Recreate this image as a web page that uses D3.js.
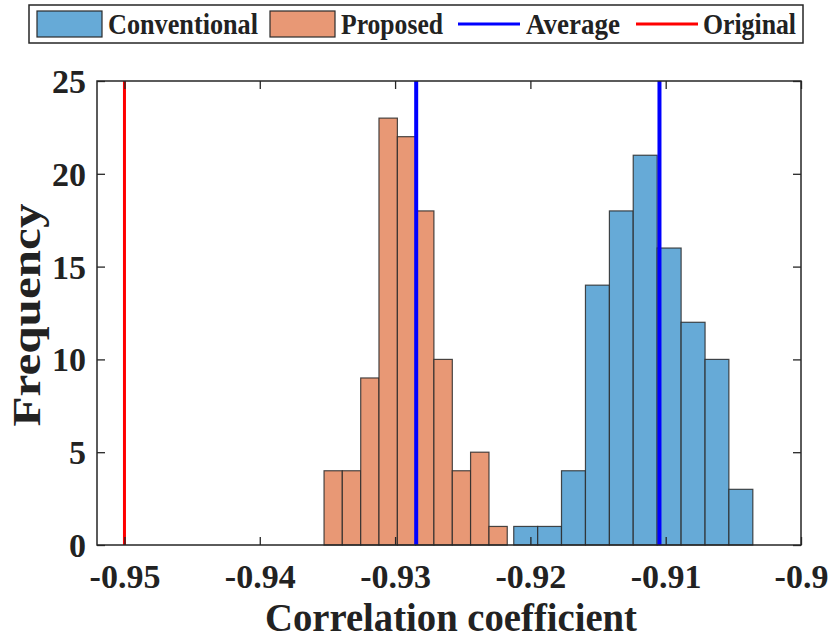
<!DOCTYPE html>
<html>
<head>
<meta charset="utf-8">
<script src="https://cdn.jsdelivr.net/npm/d3@7"></script>
<style>
  body { margin: 0; background: #fff; }
  text { font-family: "Liberation Serif", "Times New Roman", serif; font-weight: bold; fill: #222; }
</style>
</head>
<body>
<div id="chart"></div>
<script>
// histogram bin edges and counts
var conventionalEdges = [-0.92123, -0.91946, -0.91770, -0.91593, -0.91416, -0.91240, -0.91063, -0.90886, -0.90709, -0.90533, -0.90356];
var conventionalCounts = [1, 1, 4, 14, 18, 21, 16, 12, 10, 3];
var proposedEdges = [-0.93525, -0.93390, -0.93254, -0.93119, -0.92983, -0.92848, -0.92713, -0.92577, -0.92442, -0.92306, -0.92171];
var proposedCounts = [4, 4, 9, 23, 22, 18, 10, 4, 5, 1];

// vertical reference lines
var averageValues = [-0.92844, -0.91046];
var originalValue = -0.95;

var xTicks = [-0.95, -0.94, -0.93, -0.92, -0.91, -0.90];
var xTickLabels = ["-0.95", "-0.94", "-0.93", "-0.92", "-0.91", "-0.9"];
var yTicks = [0, 5, 10, 15, 20, 25];

var svgWidth = 830;
var svgHeight = 641;

var margin = { top: 81, right: 29, bottom: 96, left: 97 };
var width = svgWidth - margin.left - margin.right;
var height = svgHeight - margin.top - margin.bottom;

var svg = d3.select("#chart")
    .append("svg")
    .attr("width", svgWidth)
    .attr("height", svgHeight);

var chartGroup = svg.append("g")
    .attr("transform", `translate(${margin.left}, ${margin.top})`);

var xScale = d3.scaleLinear().domain([-0.95203, -0.9]).range([0, width]);
var yScale = d3.scaleLinear().domain([0, 25]).range([height, 0]);

function binData(edges, counts) {
    return counts.map(function(c, i) {
        return { x0: edges[i], x1: edges[i + 1], n: c };
    });
}

function drawBars(data, fill) {
    chartGroup.append("g").selectAll("rect")
        .data(data)
        .enter()
        .append("rect")
        .attr("x", d => xScale(d.x0))
        .attr("width", d => xScale(d.x1) - xScale(d.x0))
        .attr("y", d => yScale(d.n))
        .attr("height", d => yScale(0) - yScale(d.n))
        .attr("fill", fill)
        .attr("stroke", "#2a2a2a")
        .attr("stroke-opacity", 0.85)
        .attr("stroke-width", 1.2);
}

drawBars(binData(conventionalEdges, conventionalCounts), "#66aad7");
drawBars(binData(proposedEdges, proposedCounts), "#e89875");

// average lines
chartGroup.selectAll(".avg")
    .data(averageValues)
    .enter()
    .append("line")
    .attr("x1", d => xScale(d))
    .attr("x2", d => xScale(d))
    .attr("y1", 0)
    .attr("y2", height)
    .attr("stroke", "#0000ff")
    .attr("stroke-width", 4);

// original line
chartGroup.append("line")
    .attr("x1", xScale(originalValue))
    .attr("x2", xScale(originalValue))
    .attr("y1", 0)
    .attr("y2", height)
    .attr("stroke", "#ff0000")
    .attr("stroke-width", 3);

// axes, MATLAB-like inward ticks on all sides
var xAxis = d3.axisBottom(xScale).tickValues(xTicks).tickSize(-8).tickSizeOuter(0)
    .tickFormat((d, i) => xTickLabels[i]);
var yAxis = d3.axisLeft(yScale).tickValues(yTicks).tickSize(-8).tickSizeOuter(0);

var gx = chartGroup.append("g")
    .attr("transform", `translate(0, ${height})`)
    .call(xAxis);
gx.selectAll("text")
    .attr("dy", null)
    .attr("y", 43)
    .style("font-size", "34px");

var gy = chartGroup.append("g").call(yAxis);
gy.selectAll("text")
    .attr("x", -11)
    .attr("dy", "0.34em")
    .style("font-size", "34px");

chartGroup.append("g")
    .call(d3.axisTop(xScale).tickValues(xTicks).tickSize(-8).tickSizeOuter(0).tickFormat(""));
chartGroup.append("g")
    .attr("transform", `translate(${width}, 0)`)
    .call(d3.axisRight(yScale).tickValues(yTicks).tickSize(-8).tickSizeOuter(0).tickFormat(""));

chartGroup.selectAll(".domain").remove();
chartGroup.selectAll(".tick line").attr("stroke", "#262626").attr("stroke-width", 1.3);
chartGroup.selectAll(".tick text").attr("fill", "#222");

chartGroup.append("rect")
    .attr("width", width)
    .attr("height", height)
    .attr("fill", "none")
    .attr("stroke", "#262626")
    .attr("stroke-width", 1.5);

// axis labels
chartGroup.append("text")
    .attr("x", width / 2 + 2)
    .attr("y", height + 86)
    .attr("text-anchor", "middle")
    .attr("textLength", 372)
    .attr("lengthAdjust", "spacingAndGlyphs")
    .style("font-size", "40px")
    .text("Correlation coefficient");

chartGroup.append("text")
    .attr("transform", `translate(${40 - margin.left}, ${height / 2 + 2}) rotate(-90)`)
    .attr("text-anchor", "middle")
    .attr("textLength", 223)
    .attr("lengthAdjust", "spacingAndGlyphs")
    .style("font-size", "40px")
    .text("Frequency");

// legend
var legend = svg.append("g");
legend.append("rect")
    .attr("x", 29).attr("y", 5)
    .attr("width", 774).attr("height", 38)
    .attr("fill", "#fff")
    .attr("stroke", "#262626")
    .attr("stroke-width", 1.5);

var legendItems = [
    { name: "Conventional", kind: "patch", color: "#66aad7", x0: 37, tx: 108, tw: 150 },
    { name: "Proposed", kind: "patch", color: "#e89875", x0: 270, tx: 341, tw: 102 },
    { name: "Average", kind: "line", color: "#0000ff", x0: 458, tx: 526, tw: 94 },
    { name: "Original", kind: "line", color: "#ff0000", x0: 636, tx: 703, tw: 93 }
];

legendItems.forEach(function(item) {
    if (item.kind === "patch") {
        legend.append("rect")
            .attr("x", item.x0).attr("y", 11)
            .attr("width", 65).attr("height", 26)
            .attr("fill", item.color)
            .attr("stroke", "#2a2a2a")
            .attr("stroke-width", 1.2);
    } else {
        legend.append("line")
            .attr("x1", item.x0).attr("x2", item.x0 + 62)
            .attr("y1", 24).attr("y2", 24)
            .attr("stroke", item.color)
            .attr("stroke-width", 3);
    }
    legend.append("text")
        .attr("x", item.tx)
        .attr("y", 34)
        .attr("textLength", item.tw)
        .attr("lengthAdjust", "spacingAndGlyphs")
        .style("font-size", "30px")
        .text(item.name);
});
</script>
</body>
</html>
